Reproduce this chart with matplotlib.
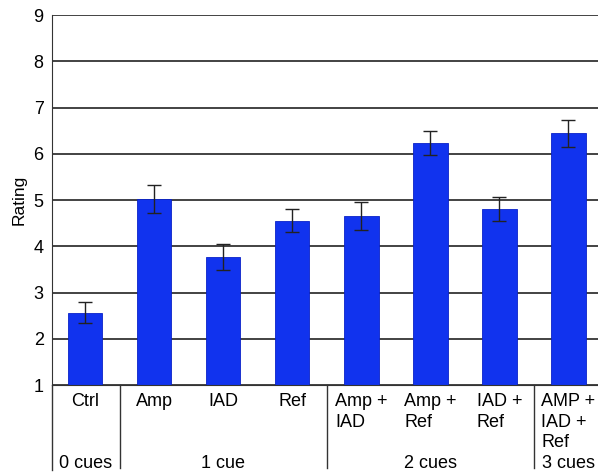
import matplotlib.pyplot as plt
import matplotlib.transforms as mtransforms
import numpy as np

plt.rcParams['font.family'] = ['Liberation Sans', 'DejaVu Sans']

# data
categories = ["Ctrl", "Amp", "IAD", "Ref", "Amp +\nIAD", "Amp +\nRef", "IAD +\nRef", "AMP +\nIAD +\nRef"]
ratings = [2.57, 5.03, 3.77, 4.56, 4.66, 6.23, 4.81, 6.45]
errors = [0.22, 0.30, 0.28, 0.25, 0.31, 0.26, 0.25, 0.29]
groups = ["0 cues", "1 cue", "2 cues", "3 cues"]
group_centers = [0, 2, 5, 7]
group_bounds = [0.5, 3.5, 6.5]

fs = 13

fig = plt.figure(figsize=(5.98, 4.75), dpi=100)
ax = fig.add_axes([0.087, 0.189, 0.913, 0.779])

x = np.arange(len(categories))
ax.bar(x, ratings, width=0.5, color="#1133EE", edgecolor="#0a22c8", linewidth=0.6, zorder=2)
ax.errorbar(x, ratings, yerr=errors, fmt="none", ecolor="#222222", elinewidth=1.0,
            capsize=5, capthick=1.0, zorder=3)

ax.set_ylim(1, 9)
ax.set_xlim(-0.48, 7.43)
ax.set_yticks(range(1, 10))
ax.yaxis.grid(True, color="#222222", linewidth=1.2, zorder=0)
ax.set_axisbelow(True)
ax.set_xticks([])
ax.tick_params(axis="y", length=0, pad=6, labelsize=fs)
for s in ["top", "right"]:
    ax.spines[s].set_visible(False)
ax.spines["left"].set_color("#333333")
ax.spines["bottom"].set_color("#333333")
ax.set_ylabel("Rating", fontsize=fs - 0.5, labelpad=5)

trans = mtransforms.blended_transform_factory(ax.transData, ax.transAxes)

# category labels
for xi, lab in zip(x, categories):
    ax.text(xi, -0.02, lab, transform=trans, ha="center", va="top",
            multialignment="left", fontsize=fs, linespacing=1.3)

# group labels
for xc, g in zip(group_centers, groups):
    ax.text(xc, -0.212, g, transform=trans, ha="center", va="center", fontsize=fs)

# separator lines below axis
ax.plot([0, 0], [0, -0.23], transform=ax.transAxes, color="#333333", linewidth=1.0, clip_on=False)
for b in group_bounds:
    ax.plot([b, b], [0, -0.225], transform=trans, color="#333333", linewidth=1.0, clip_on=False)

fig.savefig("out.png", dpi=100)
